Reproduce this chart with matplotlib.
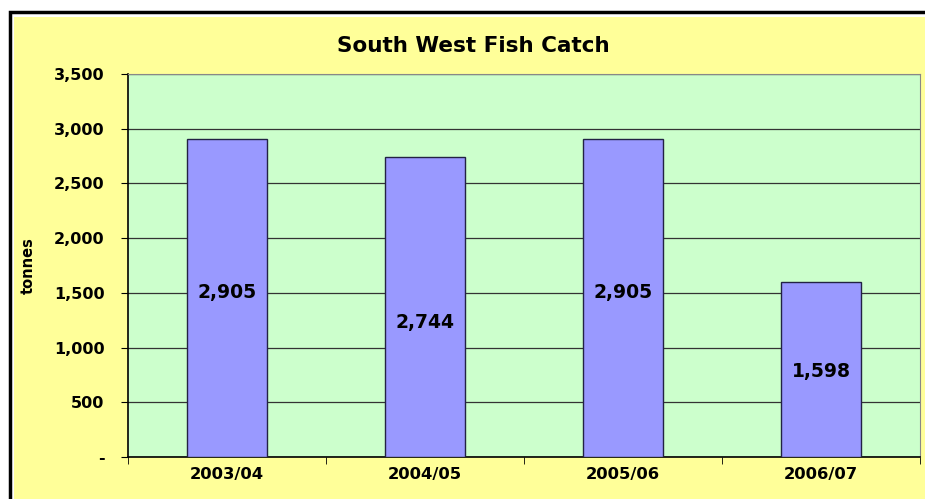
import matplotlib.pyplot as plt
from matplotlib.patches import Rectangle
from matplotlib.ticker import FixedLocator, FuncFormatter

# ── data ──────────────────────────────────────────────────────────────────────
seasons = ["2003/04", "2004/05", "2005/06", "2006/07"]
catch_tonnes = [2905, 2744, 2905, 1598]
y_ticks = [0, 500, 1000, 1500, 2000, 2500, 3000, 3500]

plt.rcParams["font.family"] = ["DejaVu Sans"]

fig = plt.figure(figsize=(9.25, 4.99), dpi=100)
fig.patch.set_facecolor("white")
W, H = 925, 499

# chart area (yellow) with black frame, cropped at right/bottom like the source
fig.patches.append(Rectangle((14 / W, 0), 1 - 14 / W, 1 - 17 / H,
                             transform=fig.transFigure, facecolor="#FFFF99",
                             edgecolor="none", zorder=-2))
fig.patches.append(Rectangle((9.5 / W, -0.05), 1.1, 1.05 - 12 / H,
                             transform=fig.transFigure, facecolor="none",
                             edgecolor="black", linewidth=2.5, zorder=-1))

ax = fig.add_axes([128 / W, 1 - 457 / H, (920 - 128) / W, (457 - 74) / H])
ax.set_facecolor("#CCFFCC")

x = range(len(seasons))
ax.bar(x, catch_tonnes, width=0.4, color="#9999FF", edgecolor="#222244",
       linewidth=1.0, zorder=3)

# data labels, roughly centred in each bar (Excel nudged a couple of them)
nudge_px = [6, -16, 6, -2]
for i, v in enumerate(catch_tonnes):
    ax.annotate(f"{v:,}", (i, v / 2), xytext=(0, nudge_px[i] * 0.72),
                textcoords="offset points", ha="center", va="center",
                fontsize=13.5, fontweight="bold", zorder=4)

ax.set_xlim(-0.5, len(seasons) - 0.5)
ax.set_ylim(0, 3500)
ax.yaxis.set_major_locator(FixedLocator(y_ticks))
ax.yaxis.set_major_formatter(FuncFormatter(lambda v, p: "-" if v == 0 else f"{int(v):,}"))
ax.grid(axis="y", color="#333333", linewidth=0.9, zorder=1)
ax.set_axisbelow(True)

ax.set_xticks(list(x))
ax.set_xticklabels(seasons, fontsize=11.8, fontweight="bold")
ax.xaxis.set_minor_locator(FixedLocator([-0.5, 0.5, 1.5, 2.5, 3.5]))
ax.tick_params(axis="x", which="major", length=0, pad=7)
ax.tick_params(axis="x", which="minor", length=5, direction="out", color="black")
ax.tick_params(axis="y", length=5, direction="out", labelsize=11.5, pad=12)
for lbl in ax.get_yticklabels():
    lbl.set_fontweight("bold")

for side in ("top", "right"):
    ax.spines[side].set_color("#888888")
for side in ("left", "bottom"):
    ax.spines[side].set_color("black")
    ax.spines[side].set_linewidth(1.2)

ax.set_ylabel("tonnes", fontsize=10.5, fontweight="bold")
ax.yaxis.set_label_coords((36 - 128) / 792, 0.5)
fig.text(473 / W, 1 - 46 / H, "South West Fish Catch", ha="center", va="center",
         fontsize=15.5, fontweight="bold")

fig.savefig("out.png", dpi=100, facecolor=fig.get_facecolor())
